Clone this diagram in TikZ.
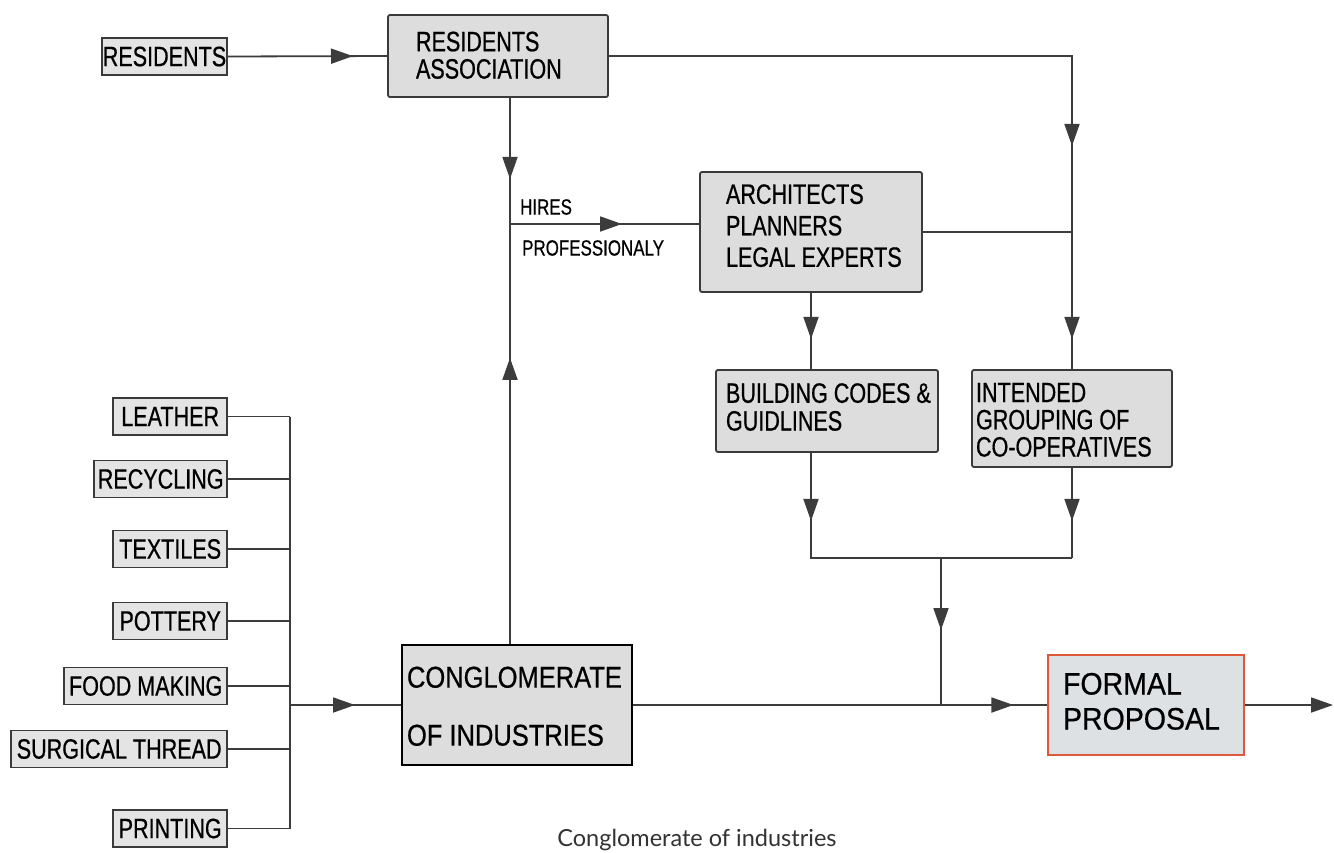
\documentclass[tikz,border=0pt]{standalone}
\usepackage{fontspec}
\setmainfont{Liberation Sans}
\newfontfamily\dfont[FakeStretch=0.77,FakeBold=0.6]{Liberation Sans}
\newfontfamily\cfont[FakeStretch=0.85,FakeBold=0.6]{Liberation Sans}
\newfontfamily\ffont[FakeStretch=0.92,FakeBold=0.6]{Liberation Sans}
\newfontfamily\capfont{Lato}
\usetikzlibrary{arrows.meta,decorations.markings,calc}
\definecolor{boxfill}{HTML}{DDDDDD}
\definecolor{smallfill}{HTML}{E4E4E4}
\definecolor{boxline}{HTML}{3A3A3A}
\definecolor{linec}{HTML}{3C3C3C}
\definecolor{fpfill}{HTML}{DDE1E4}
\definecolor{fpline}{HTML}{E0583A}
\definecolor{capc}{HTML}{333333}
\newcommand\boxtxt[4]{\makebox[#1][l]{\hspace*{#2}\raisebox{#3}[\height][\depth]{\begin{tabular}{@{}l@{}}#4\end{tabular}}}}
\tikzset{
  myarr/.tip={Triangle[length=22pt,width=15pt]},
  line/.style={draw=linec, line width=1.8pt},
  arrs/.style={postaction={decorate},decoration={markings,#1}},
  box/.style={draw=boxline, line width=1.8pt, fill=boxfill, rounded corners=2pt, inner sep=0pt},
  small/.style={draw=boxline, line width=1.6pt, fill=smallfill, font=\dfont\fontsize{28}{30}\selectfont, minimum height=37pt, inner xsep=1pt, inner ysep=0pt, anchor=east},
  lbl/.style={font=\dfont\fontsize{22}{24}\selectfont, anchor=west, inner sep=0pt},
}
\begin{document}
\begin{tikzpicture}[x=1pt,y=-1pt]
\fill[white] (0,0) rectangle (1334,852);
\useasboundingbox (0,0) rectangle (1334,852);

% main boxes
\node[box, minimum width=220pt, minimum height=82pt, font=\dfont\fontsize{28}{26}\selectfont] (RA) at (498,56) {\boxtxt{220pt}{28pt}{-3pt}{RESIDENTS\\ASSOCIATION}};
\node[box, minimum width=222pt, minimum height=120pt, font=\dfont\fontsize{28}{31.5}\selectfont] (Arch) at (811,232) {\boxtxt{222pt}{26pt}{3pt}{ARCHITECTS\\PLANNERS\\LEGAL EXPERTS}};
\node[box, minimum width=222pt, minimum height=82pt, font=\dfont\fontsize{28}{27.5}\selectfont] (BC) at (827,411) {\boxtxt{222pt}{10pt}{0pt}{BUILDING CODES \&\\GUIDLINES}};
\node[box, minimum width=200pt, minimum height=97pt, font=\dfont\fontsize{28}{25.5}\selectfont] (Int) at (1072,418.5) {\boxtxt{200pt}{4pt}{-5pt}{INTENDED\\GROUPING OF\\CO-OPERATIVES}};
\node[box, draw=black, line width=2.8pt, rounded corners=0pt, minimum width=230pt, minimum height=120pt, font=\cfont\fontsize{30}{58}\selectfont] (Cong) at (517,705) {\boxtxt{230pt}{5pt}{0pt}{CONGLOMERATE\\OF INDUSTRIES}};
\node[box, draw=fpline, fill=fpfill, rounded corners=0pt, minimum width=196pt, minimum height=100pt, font=\ffont\fontsize{31}{35}\selectfont] (FP) at (1146,705) {\boxtxt{196pt}{15pt}{0pt}{FORMAL\\PROPOSAL}};

% small boxes
\node[small, minimum width=125pt] (Res) at (228,56.5) {RESIDENTS};
\node[small, minimum width=114pt] (Lea) at (228,416.5) {LEATHER};
\node[small, minimum width=133pt] (Rec) at (228,479) {RECYCLING};
\node[small, minimum width=114pt] (Tex) at (228,549) {TEXTILES};
\node[small, minimum width=114pt] (Pot) at (228,621) {POTTERY};
\node[small, minimum width=163pt] (Food) at (228,686) {FOOD MAKING};
\node[small, minimum width=216pt] (Surg) at (228,749) {SURGICAL THREAD};
\node[small, minimum width=114pt] (Prin) at (228,828.5) {PRINTING};

% labels
\node[lbl] (hires) at (520,207) {HIRES};
\node[lbl] (prof) at (522,248) {PROFESSIONALY};
\node[font=\capfont\fontsize{23.5}{26}\selectfont, text=capc] (cap) at (697,840) {Conglomerate of industries};

% coordinates
\coordinate (v) at (510,0);
\coordinate (j1) at (510,224);
\coordinate (j3) at (811,558);
\coordinate (j4) at (1072,558);
\coordinate (j5) at (941,558);
\coordinate (bt) at (290,416.5);
\coordinate (bb) at (290,828.5);
\coordinate (bm) at (290,705);
\coordinate (out) at (1333,705);

% connectors
\draw[line, arrs={mark=at position 125pt with {\arrow{myarr}}}] (Res.east) -- (RA.west);
\draw[line, arrs={mark=at position 553pt with {\arrow{myarr}},mark=at position 746pt with {\arrow{myarr}}}] (RA.east) -| (Int.north);
\draw[line] (Arch.east) -- (Arch.east -| Int.north);
\draw[line, arrs={mark=at position 81pt with {\arrow{myarr}},mark=at position 260pt with {\arrowreversed{myarr}}}] (RA.south -| v) -- (Cong.north -| v);
\draw[line, arrs={mark=at position 112pt with {\arrow{myarr}}}] (j1) -- (j1 -| Arch.west);
\draw[line, arrs={mark=at position 46pt with {\arrow{myarr}}}] (Arch.south) -- (Arch.south |- BC.north);
\draw[line, arrs={mark=at position 68pt with {\arrow{myarr}}}] (Arch.south |- BC.south) -- (j3) -- (j4);
\draw[line, arrs={mark=at position 53pt with {\arrow{myarr}}}] (Int.south) -- (j4);
\draw[line, arrs={mark=at position 72pt with {\arrow{myarr}}}] (j5) -- (j5 |- Cong.east);
\draw[line, arrs={mark=at position 380pt with {\arrow{myarr}}}] (Cong.east) -- (FP.west);
\draw[line, -{myarr}] (FP.east) -- (out);
\foreach \n in {Lea,Rec,Tex,Pot,Food,Surg,Prin} {
  \draw[line] (\n.east) -- (\n.east -| bt);
}
\draw[line] (bt) -- (bb);
\draw[line, arrs={mark=at position 65pt with {\arrow{myarr}}}] (bm) -- (Cong.west);
\end{tikzpicture}
\end{document}
